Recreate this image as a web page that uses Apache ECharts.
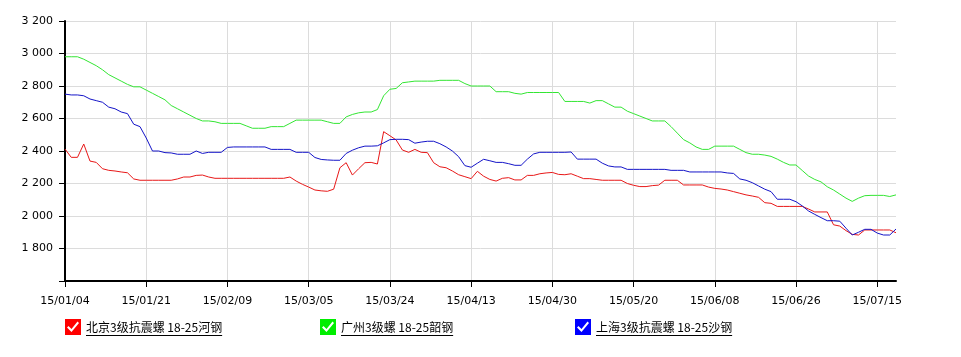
<!DOCTYPE html>
<html>
<head>
<meta charset="utf-8">
<script src="https://cdn.jsdelivr.net/npm/echarts@6/dist/echarts.min.js"></script>
<style>
html,body{margin:0;padding:0;background:#fff;}
#c{width:961px;height:357px;}
</style>
</head>
<body>
<div id="c"></div>
<script>
var dates = [
'15/01/04','15/01/05','15/01/06','15/01/07','15/01/08','15/01/09','15/01/12','15/01/13','15/01/14','15/01/15','15/01/16','15/01/19','15/01/20',
'15/01/21','15/01/22','15/01/23','15/01/26','15/01/27','15/01/28','15/01/29','15/01/30','15/02/02','15/02/03','15/02/04','15/02/05','15/02/06',
'15/02/09','15/02/10','15/02/11','15/02/12','15/02/13','15/02/16','15/02/17','15/02/25','15/02/26','15/02/27','15/03/02','15/03/03','15/03/04',
'15/03/05','15/03/06','15/03/09','15/03/10','15/03/11','15/03/12','15/03/13','15/03/16','15/03/17','15/03/18','15/03/19','15/03/20','15/03/23',
'15/03/24','15/03/25','15/03/26','15/03/27','15/03/30','15/03/31','15/04/01','15/04/02','15/04/03','15/04/07','15/04/08','15/04/09','15/04/10',
'15/04/13','15/04/14','15/04/15','15/04/16','15/04/17','15/04/20','15/04/21','15/04/22','15/04/23','15/04/24','15/04/27','15/04/28','15/04/29',
'15/04/30','15/05/04','15/05/05','15/05/06','15/05/07','15/05/08','15/05/11','15/05/12','15/05/13','15/05/14','15/05/15','15/05/18','15/05/19',
'15/05/20','15/05/21','15/05/22','15/05/25','15/05/26','15/05/27','15/05/28','15/05/29','15/06/01','15/06/02','15/06/03','15/06/04','15/06/05',
'15/06/08','15/06/09','15/06/10','15/06/11','15/06/12','15/06/15','15/06/16','15/06/17','15/06/18','15/06/19','15/06/23','15/06/24','15/06/25',
'15/06/26','15/06/29','15/06/30','15/07/01','15/07/02','15/07/03','15/07/06','15/07/07','15/07/08','15/07/09','15/07/10','15/07/13','15/07/14',
'15/07/15','15/07/16','15/07/17','15/07/20'
];

var seriesNames = ['北京3级抗震螺 18-25河钢', '广州3级螺 18-25韶钢', '上海3级抗震螺 18-25沙钢'];

var beijing = [
2412,2361,2361,2443,2338,2330,2291,2281,2277,2271,
2266,2228,2220,2220,2220,2220,2220,2220,2228,2240,
2240,2250,2252,2240,2232,2232,2232,2232,2232,2232,
2232,2232,2232,2232,2232,2232,2240,2215,2195,2178,
2160,2155,2152,2165,2297,2328,2252,2291,2328,2330,
2320,2519,2494,2468,2406,2392,2410,2392,2390,2328,
2303,2297,2277,2254,2242,2230,2275,2245,2225,2215,
2232,2236,2222,2222,2250,2250,2260,2265,2268,2256,
2254,2260,2245,2230,2230,2225,2220,2220,2220,2220,
2200,2189,2181,2181,2187,2190,2220,2220,2220,2191,
2191,2191,2191,2178,2170,2166,2160,2150,2140,2130,
2123,2115,2082,2078,2059,2059,2059,2059,2059,2043,
2025,2025,2025,1946,1938,1910,1887,1883,1914,1914,
1914,1914,1914,1897
];

var guangzhou = [
2980,2980,2980,2965,2945,2925,2900,2870,2850,2830,
2810,2795,2795,2775,2755,2735,2715,2680,2660,2640,
2620,2600,2585,2585,2580,2570,2570,2570,2570,2555,
2540,2540,2540,2550,2550,2550,2570,2590,2590,2590,
2590,2590,2580,2570,2570,2610,2625,2635,2640,2640,
2655,2740,2780,2785,2820,2825,2830,2830,2830,2830,
2835,2835,2835,2835,2815,2800,2800,2800,2800,2765,
2765,2765,2755,2750,2760,2760,2760,2760,2760,2760,
2705,2705,2705,2705,2695,2710,2710,2690,2670,2670,
2645,2630,2615,2600,2585,2585,2585,2550,2510,2470,
2450,2425,2410,2410,2430,2430,2430,2430,2410,2390,
2380,2380,2375,2367,2350,2330,2314,2314,2280,2246,
2225,2210,2180,2160,2135,2110,2090,2110,2125,2127,
2127,2127,2120,2130
];

var shanghai = [
2750,2745,2745,2740,2720,2710,2700,2670,2660,2640,
2630,2565,2550,2480,2400,2400,2390,2388,2380,2380,
2380,2400,2385,2392,2392,2392,2422,2425,2425,2425,
2425,2425,2425,2410,2410,2410,2410,2392,2392,2392,
2360,2348,2345,2343,2343,2385,2405,2420,2430,2430,
2432,2450,2470,2472,2472,2470,2448,2455,2460,2460,
2445,2425,2400,2365,2310,2300,2325,2349,2340,2330,
2330,2322,2312,2312,2350,2382,2392,2392,2392,2392,
2392,2394,2350,2350,2350,2350,2325,2308,2302,2302,
2287,2287,2287,2287,2287,2287,2287,2281,2281,2281,
2271,2271,2271,2271,2271,2271,2265,2262,2228,2220,
2205,2185,2165,2150,2103,2103,2103,2088,2062,2031,
2010,1990,1971,1971,1968,1925,1883,1900,1918,1918,
1895,1883,1883,1920
];

var yTicks = [1800, 2000, 2200, 2400, 2600, 2800, 3000, 3200];

var lineColors = ['#e81818', '#33e633', '#1414c8'];
var boxColors = ['#ff0000', '#00ee00', '#0000ff'];

var checkIcon = 'path://M0,0L16,0L16,16L0,16Z M2,8.5L6.5,13L14,4L12.5,2.5L6.5,10L3.5,7Z';

var legendLefts = [65, 320, 575];
var legendTop = 319;
var legendFont = '12px "Noto Sans CJK SC"';

function fmt(v) {
  if (yTicks.indexOf(v) < 0) return '';
  var s = String(v);
  return s.length > 3 ? s.slice(0, s.length - 3) + ' ' + s.slice(s.length - 3) : s;
}

var chart = echarts.init(document.getElementById('c'), null, {renderer: 'canvas'});

var cv = document.createElement('canvas').getContext('2d');
cv.font = legendFont;

var legends = [];
var graphics = [];
for (var i = 0; i < 3; i++) {
  legends.push({
    left: legendLefts[i],
    top: legendTop,
    padding: 0,
    itemWidth: 16,
    itemHeight: 16,
    selectedMode: false,
    icon: checkIcon,
    textStyle: {fontFamily: 'Noto Sans CJK SC', fontSize: 12, color: '#000'},
    data: [{name: seriesNames[i], itemStyle: {color: boxColors[i]}}]
  });
  var tx = legendLefts[i] + 16 + 5;
  var w = cv.measureText(seriesNames[i]).width;
  graphics.push({
    type: 'line',
    silent: true,
    shape: {x1: tx, y1: legendTop + 16.5, x2: tx + w, y2: legendTop + 16.5},
    style: {stroke: '#000', lineWidth: 1}
  });
}

var dataSets = [beijing, guangzhou, shanghai];
var series = [];
for (var k = 0; k < 3; k++) {
  series.push({
    name: seriesNames[k],
    type: 'line',
    data: dataSets[k],
    showSymbol: false,
    symbol: 'none',
    animation: false,
    lineStyle: {color: lineColors[k], width: 1},
    itemStyle: {color: lineColors[k]}
  });
}

chart.setOption({
  backgroundColor: '#fff',
  animation: false,
  grid: {left: 65, right: 65, top: 21, bottom: 76, containLabel: false},
  legend: legends,
  graphic: graphics,
  xAxis: {
    type: 'category',
    data: dates,
    boundaryGap: false,
    axisLine: {show: true, lineStyle: {color: '#000', width: 2}},
    axisTick: {show: true, interval: 12, length: 6, lineStyle: {color: '#000', width: 1}},
    axisLabel: {interval: 12, margin: 15, color: '#000', fontFamily: 'DejaVu Sans', fontSize: 11},
    splitLine: {show: true, interval: 12, lineStyle: {color: '#dcdcdc', width: 1}}
  },
  yAxis: {
    type: 'value',
    min: 1600,
    max: 3200,
    interval: 200,
    axisLine: {show: true, lineStyle: {color: '#000', width: 2}},
    axisTick: {show: true, length: 6, lineStyle: {color: '#000', width: 1}},
    axisLabel: {margin: 12, color: '#000', fontFamily: 'DejaVu Sans', fontSize: 11, formatter: fmt},
    splitLine: {show: true, lineStyle: {color: '#dcdcdc', width: 1}}
  },
  series: series
});
</script>
</body>
</html>
